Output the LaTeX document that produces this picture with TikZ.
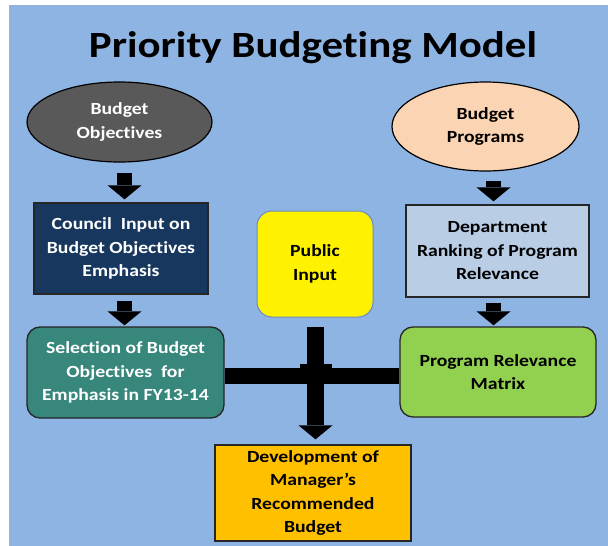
\documentclass[tikz,border=0pt]{standalone}
\usepackage{fontspec}
\setmainfont{Carlito}[FakeStretch=1.16, Ligatures=CommonOff]
\usetikzlibrary{shapes.geometric,arrows.meta}

\definecolor{bgblue}{HTML}{8DB4E2}
\definecolor{objgray}{HTML}{595959}
\definecolor{peach}{HTML}{FBD4B4}
\definecolor{navy}{HTML}{17375E}
\definecolor{paleblue}{HTML}{B9CDE5}
\definecolor{teal}{HTML}{37877C}
\definecolor{lime}{HTML}{92D050}
\definecolor{amber}{HTML}{FFC000}
\definecolor{pubedge}{HTML}{6A8CBF}

\tikzset{
  txt/.style={align=center, inner sep=0pt,
    font=\bfseries\fontsize{17}{23.5}\selectfont},
  oval/.style={txt, ellipse, draw=black, line width=1.2pt},
  sqbox/.style={txt, rectangle, draw=black!85, line width=1.3pt},
  rbox/.style={txt, rectangle, rounded corners=13pt, draw=black!85, line width=1.3pt},
  blockarrow/.style={draw=black, line width=15pt,
    -{Triangle[width=34pt,length=14pt,line width=0pt]}},
  bar/.style={draw=black, line width=16pt}
}

\begin{document}
\begin{tikzpicture}[x=1pt,y=-1pt]
  \useasboundingbox (0,0) rectangle (608,546);
  \fill[bgblue] (9,5) rectangle (608,546);

  % title
  \node[anchor=base, inner sep=0pt, font=\bfseries\fontsize{37}{40}\selectfont]
    (title) at (313,57) {Priority Budgeting Model};

  % left column
  \node[oval, fill=objgray, text=white, minimum width=185pt, minimum height=80pt]
    (obj) at (119.5,122) {Budget\\Objectives};
  \node[sqbox, fill=navy, text=white, minimum width=174pt, minimum height=91pt]
    (council) at (121,248.5) {Council\ \ Input on\\Budget Objectives\\Emphasis};
  \node[rbox, fill=teal, text=white, minimum width=197pt, minimum height=91pt]
    (sel) at (125.5,372.5) {Selection of Budget\\Objectives\ \ for\\Emphasis in FY13-14};

  % right column
  \node[oval, fill=peach, minimum width=187pt, minimum height=89pt]
    (progs) at (485.5,126.5) {Budget\\Programs};
  \node[sqbox, fill=paleblue, minimum width=183pt, minimum height=92pt]
    (dept) at (497.5,251) {Department\\Ranking of Program\\Relevance};
  \node[rbox, fill=lime, minimum width=196pt, minimum height=90pt]
    (matrix) at (498,372) {Program Relevance\\Matrix};

  % centre column
  \node[rbox, fill=yellow, draw=pubedge, line width=1pt, rounded corners=15pt,
    minimum width=116pt, minimum height=106pt]
    (public) at (315,264) {Public\\Input};
  \node[sqbox, fill=amber, minimum width=196pt, minimum height=96pt]
    (dev) at (313,493) {Development of\\Manager’s\\Recommended\\Budget};

  % arrow axes
  \coordinate (axL) at (124.5,0);
  \coordinate (axR) at (493.5,0);
  \coordinate (axC) at (315.5,0);
  \coordinate (barY) at (0,376);

  % connectors
  \draw[blockarrow, shorten <=10pt, shorten >=3pt]
    (obj.south -| axL) -- (council.north -| axL);
  \draw[blockarrow, shorten <=6pt, shorten >=1pt]
    (council.south -| axL) -- (sel.north -| axL);
  \draw[blockarrow, shorten <=9pt, shorten >=3pt]
    (progs.south -| axR) -- (dept.north -| axR);
  \draw[blockarrow, shorten <=5pt, shorten >=1pt]
    (dept.south -| axR) -- (matrix.north -| axR);

  \draw[bar] (sel.east |- barY) -- (matrix.west |- barY);
  \draw[blockarrow, line width=17pt, shorten <=9pt, shorten >=5pt]
    (public.south -| axC) -- (dev.north -| axC);
  \fill[black] (300,364) rectangle (332,368);
\end{tikzpicture}
\end{document}
